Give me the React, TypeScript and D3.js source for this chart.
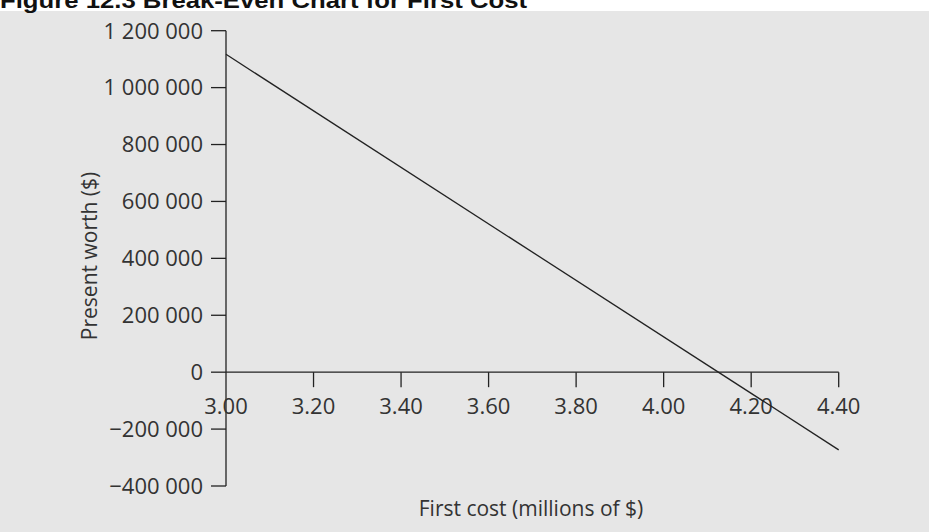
import React from "react";
import * as d3 from "d3";

const firstCost = [3.0, 4.4];
const presentWorth = [1117000, -273000];
const xTickValues = [3.0, 3.2, 3.4, 3.6, 3.8, 4.0, 4.2, 4.4];
const xTickLabels = ["3.00", "3.20", "3.40", "3.60", "3.80", "4.00", "4.20", "4.40"];
const yTickValues = [-400000, -200000, 0, 200000, 400000, 600000, 800000, 1000000, 1200000];
const yTickLabels = ["\u2212400 000", "\u2212200 000", "0", "200 000", "400 000", "600 000", "800 000", "1 000 000", "1 200 000"];
const titleText = "Figure 12.3  Break-Even Chart for First Cost";
const xLabel = "First cost (millions of $)";
const yLabel = "Present worth ($)";

const W = 929;
const H = 532;
const FONT = "'Open Sans', Lato, sans-serif";
const TXT = "#333";
const AX = "#222";

export default function App() {
  const x = d3.scaleLinear().domain([3.0, 4.4]).range([226, 838.7]);
  const y = d3.scaleLinear().domain([-400000, 1200000]).range([486, 30.7]);
  const pts = firstCost.map((c, i) => [c, presentWorth[i]] as [number, number]);
  const line = d3.line<[number, number]>().x(d => x(d[0])).y(d => y(d[1]));
  const y0 = y(0);
  return (
    <div style={{ position: "fixed", left: 0, top: 0, width: W, height: H }}>
      <svg width={W} height={H} style={{ display: "block" }}>
        <rect x={0} y={0} width={W} height={H} fill="#fff" />
        <rect x={0} y={11} width={W} height={H - 11} fill="#e6e6e6" />
        <text x={0} y={8} fontFamily="'Liberation Sans', Arial, sans-serif" fontWeight="bold" fontSize={22} fill="#111" textLength={527} lengthAdjust="spacingAndGlyphs">{titleText}</text>
        {/* y axis */}
        <line x1={x(3.0)} x2={x(3.0)} y1={y(1200000)} y2={y(-400000)} stroke={AX} strokeWidth={1.3} />
        {yTickValues.map((v, i) => (
          <g key={"y" + v}>
            <line x1={x(3.0) - 15} x2={x(3.0)} y1={y(v)} y2={y(v)} stroke={AX} strokeWidth={1.3} />
            <text x={x(3.0) - 23} y={y(v) + 7.8} textAnchor="end" fontFamily={FONT} fontSize={22} fill={TXT}>{yTickLabels[i]}</text>
          </g>
        ))}
        {/* x axis */}
        <line x1={x(3.0)} x2={x(4.4)} y1={y0} y2={y0} stroke={AX} strokeWidth={1.3} />
        {xTickValues.map((v, i) => (
          <g key={"x" + v}>
            {i > 0 && <line x1={x(v)} x2={x(v)} y1={y0} y2={y0 + 15} stroke={AX} strokeWidth={1.3} />}
            <text x={x(v)} y={413.5} textAnchor="middle" fontFamily={FONT} fontSize={22} fill={TXT}>{xTickLabels[i]}</text>
          </g>
        ))}
        <path d={line(pts) || ""} fill="none" stroke={AX} strokeWidth={1.3} />
        <text x={531} y={516} textAnchor="middle" fontFamily={FONT} fontSize={21} fill={TXT}>{xLabel}</text>
        <text transform={`translate(97, 256) rotate(-90)`} textAnchor="middle" fontFamily={FONT} fontSize={21} fill={TXT}>{yLabel}</text>
      </svg>
    </div>
  );
}
